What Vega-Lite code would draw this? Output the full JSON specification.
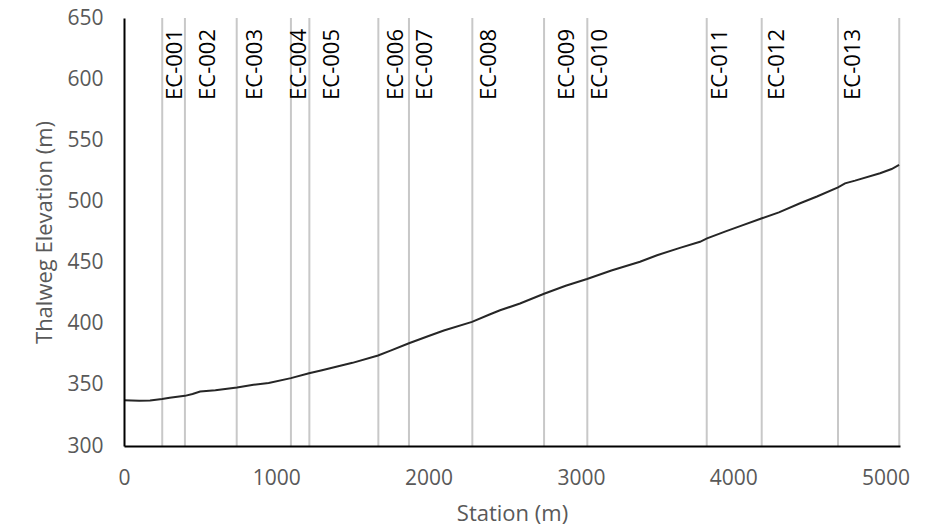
{
  "$schema": "https://vega.github.io/schema/vega-lite/v6.json",
  "autosize": "none",
  "width": 776,
  "height": 428,
  "padding": {"left": 124, "top": 18, "right": 41, "bottom": 85},
  "background": "white",
  "config": {"view": {"stroke": null}, "font": "Open Sans"},
  "datasets": {
    "profile": [
      {"station": 0, "elev": 337.5}, {"station": 50, "elev": 337.2}, {"station": 100, "elev": 337.0},
      {"station": 171, "elev": 337.3}, {"station": 250, "elev": 338.5}, {"station": 300, "elev": 339.5},
      {"station": 400, "elev": 341.0}, {"station": 450, "elev": 342.5}, {"station": 500, "elev": 344.5},
      {"station": 600, "elev": 345.5}, {"station": 742, "elev": 347.8}, {"station": 850, "elev": 350.0},
      {"station": 950, "elev": 351.5}, {"station": 1096, "elev": 355.5}, {"station": 1215, "elev": 359.5},
      {"station": 1300, "elev": 362.0}, {"station": 1400, "elev": 365.0}, {"station": 1500, "elev": 368.0},
      {"station": 1668, "elev": 374.0}, {"station": 1750, "elev": 378.0}, {"station": 1871, "elev": 384.0},
      {"station": 2000, "elev": 390.0}, {"station": 2100, "elev": 394.5}, {"station": 2285, "elev": 401.5},
      {"station": 2400, "elev": 407.5}, {"station": 2469, "elev": 411.0}, {"station": 2600, "elev": 416.5},
      {"station": 2758, "elev": 424.5}, {"station": 2900, "elev": 431.0}, {"station": 3040, "elev": 436.6},
      {"station": 3200, "elev": 443.5}, {"station": 3388, "elev": 450.7}, {"station": 3500, "elev": 456.0},
      {"station": 3650, "elev": 462.0}, {"station": 3782, "elev": 467.0}, {"station": 3828, "elev": 469.8},
      {"station": 3950, "elev": 475.5}, {"station": 4050, "elev": 480.0}, {"station": 4189, "elev": 486.2},
      {"station": 4300, "elev": 491.0}, {"station": 4439, "elev": 498.5}, {"station": 4550, "elev": 504.0},
      {"station": 4688, "elev": 511.5}, {"station": 4734, "elev": 514.8}, {"station": 4800, "elev": 517.0},
      {"station": 4964, "elev": 523.0}, {"station": 5040, "elev": 526.5}, {"station": 5089, "elev": 529.8}
    ],
    "sections": [
      {"name": "EC-001", "station": 251, "label_station": 272, "label_elev": 583},
      {"name": "EC-002", "station": 400, "label_station": 489, "label_elev": 583},
      {"name": "EC-003", "station": 740, "label_station": 796, "label_elev": 583},
      {"name": "EC-004", "station": 1096, "label_station": 1085, "label_elev": 583},
      {"name": "EC-005", "station": 1217, "label_station": 1303, "label_elev": 583},
      {"name": "EC-006", "station": 1670, "label_station": 1717, "label_elev": 583},
      {"name": "EC-007", "station": 1871, "label_station": 1912, "label_elev": 583},
      {"name": "EC-008", "station": 2287, "label_station": 2328, "label_elev": 583},
      {"name": "EC-009", "station": 2758, "label_station": 2840, "label_elev": 583},
      {"name": "EC-010", "station": 3042, "label_station": 3061, "label_elev": 583},
      {"name": "EC-011", "station": 3826, "label_station": 3849, "label_elev": 583},
      {"name": "EC-012", "station": 4187, "label_station": 4225, "label_elev": 583},
      {"name": "EC-013", "station": 4688, "label_station": 4724, "label_elev": 583},
      {"name": "", "station": 5090, "label_station": 5090, "label_elev": 583}
    ]
  },
  "layer": [
    {
      "data": {"name": "sections"},
      "mark": {"type": "rule", "color": "#c8c8c8", "strokeWidth": 2},
      "encoding": {
        "x": {"field": "station", "type": "quantitative", "scale": {"domain": [0, 5095], "nice": false, "zero": false}}
      }
    },
    {
      "data": {"name": "profile"},
      "mark": {"type": "line", "color": "#262626", "strokeWidth": 2},
      "encoding": {
        "x": {
          "field": "station", "type": "quantitative",
          "scale": {"domain": [0, 5095], "nice": false, "zero": false},
          "axis": {
            "title": "Station (m)", "values": [0, 1000, 2000, 3000, 4000, 5000], "format": "d",
            "grid": false, "ticks": false, "domainColor": "#000000", "domainWidth": 2,
            "labelColor": "#595959", "labelFontSize": 21, "labelPadding": 21,
            "titleColor": "#595959", "titleFontSize": 22, "titleFontWeight": "normal",
            "titlePadding": 15, "labelFlush": false, "zindex": 1
          }
        },
        "y": {
          "field": "elev", "type": "quantitative",
          "scale": {"domain": [300, 650], "nice": false, "zero": false},
          "axis": {
            "title": "Thalweg Elevation (m)", "values": [300, 350, 400, 450, 500, 550, 600, 650], "format": "d",
            "grid": false, "ticks": false, "domainColor": "#000000", "domainWidth": 2,
            "labelColor": "#595959", "labelFontSize": 21, "labelPadding": 21,
            "titleColor": "#595959", "titleFontSize": 22, "titleFontWeight": "normal",
            "titlePadding": 10, "labelFlush": false, "zindex": 1
          }
        }
      }
    },
    {
      "data": {"name": "sections"},
      "mark": {"type": "text", "angle": 270, "align": "left", "baseline": "top", "fontSize": 22, "color": "#000000"},
      "encoding": {
        "x": {"field": "label_station", "type": "quantitative"},
        "y": {"field": "label_elev", "type": "quantitative"},
        "text": {"field": "name"}
      }
    }
  ]
}
